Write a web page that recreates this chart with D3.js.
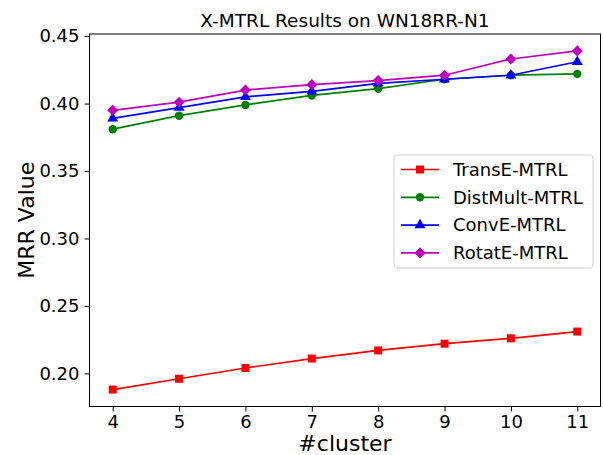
<!DOCTYPE html>
<html>
<head>
<meta charset="utf-8">
<script src="https://cdn.jsdelivr.net/npm/d3@7"></script>
<style>
  body { margin: 0; background: #fff; }
  svg text { font-family: "DejaVu Sans", sans-serif; fill: #000; }
</style>
</head>
<body>
<div id="chart"></div>
<script>
// data
var clusters = [4, 5, 6, 7, 8, 9, 10, 11];
var transE   = [0.188, 0.196, 0.204, 0.211, 0.217, 0.222, 0.226, 0.231];
var distMult = [0.381, 0.391, 0.399, 0.406, 0.411, 0.418, 0.421, 0.422];
var convE    = [0.389, 0.397, 0.405, 0.409, 0.415, 0.418, 0.421, 0.431];
var rotatE   = [0.395, 0.401, 0.410, 0.414, 0.417, 0.421, 0.433, 0.439];
var yTicks = [0.20, 0.25, 0.30, 0.35, 0.40, 0.45];
var seriesNames = ["TransE-MTRL", "DistMult-MTRL", "ConvE-MTRL", "RotatE-MTRL"];

var series = [
  {name: seriesNames[0], values: transE,   color: "#ff0000", marker: d3.symbolSquare,   size: 64, rot: 0},
  {name: seriesNames[1], values: distMult, color: "#008000", marker: d3.symbolCircle,   size: 56, rot: 0},
  {name: seriesNames[2], values: convE,    color: "#0000ff", marker: d3.symbolTriangle, size: 52, rot: 0},
  {name: seriesNames[3], values: rotatE,   color: "#bf00bf", marker: d3.symbolSquare,   size: 62, rot: 45}
];

var width = 603, height = 455;
var mLeft = 89.5, mRight = 600.5, mTop = 34, mBottom = 406.5;

var svg = d3.select("#chart").append("svg")
  .attr("width", width)
  .attr("height", height);

// matplotlib-like 5% margins
var allVals = transE.concat(distMult, convE, rotatE);
var ymin = d3.min(allVals), ymax = d3.max(allVals);
var pad = (ymax - ymin) * 0.05;
var x = d3.scaleLinear().domain([4 - 0.35, 11 + 0.35]).range([mLeft, mRight]);
var y = d3.scaleLinear().domain([ymin - pad, ymax + pad]).range([mBottom, mTop]);

// axes
var xAxis = svg.append("g")
  .attr("transform", "translate(0," + mBottom + ")")
  .call(d3.axisBottom(x).tickValues(clusters).tickSize(5).tickPadding(4).tickFormat(d3.format("d")));
var yAxis = svg.append("g")
  .attr("transform", "translate(" + mLeft + ",0)")
  .call(d3.axisLeft(y).tickValues(yTicks).tickSize(5).tickPadding(5).tickFormat(d3.format(".2f")));

[xAxis, yAxis].forEach(function(a) {
  a.select(".domain").remove();
  a.selectAll("text").style("font-size", "18px").style("font-family", "DejaVu Sans");
  a.selectAll("line").attr("stroke", "#000").attr("stroke-width", 1);
});

// frame
svg.append("rect")
  .attr("x", mLeft).attr("y", mTop)
  .attr("width", mRight - mLeft).attr("height", mBottom - mTop)
  .attr("fill", "none").attr("stroke", "#000").attr("stroke-width", 1);

var line = d3.line()
  .x(function(d, i) { return x(clusters[i]); })
  .y(function(d) { return y(d); });

series.forEach(function(s) {
  svg.append("path")
    .datum(s.values)
    .attr("d", line)
    .attr("fill", "none")
    .attr("stroke", s.color)
    .attr("stroke-width", 1.7);
  svg.selectAll(null)
    .data(s.values)
    .enter().append("path")
    .attr("transform", function(d, i) {
      return "translate(" + x(clusters[i]) + "," + y(d) + ") rotate(" + s.rot + ")";
    })
    .attr("d", d3.symbol().type(s.marker).size(s.size))
    .attr("fill", s.color);
});

// title and labels
svg.append("text")
  .attr("x", (mLeft + mRight) / 2).attr("y", 26.5)
  .attr("text-anchor", "middle")
  .style("font-size", "18.5px")
  .text("X-MTRL Results on WN18RR-N1");

svg.append("text")
  .attr("x", (mLeft + mRight) / 2).attr("y", 451)
  .attr("text-anchor", "middle")
  .style("font-size", "22px")
  .text("#cluster");

svg.append("text")
  .attr("transform", "translate(34," + ((mTop + mBottom) / 2) + ") rotate(-90)")
  .attr("text-anchor", "middle")
  .style("font-size", "22px")
  .text("MRR Value");

// legend
var legend = svg.append("g").attr("transform", "translate(394,155)");
legend.append("rect")
  .attr("width", 199).attr("height", 113)
  .attr("rx", 3)
  .attr("fill", "#fff").attr("fill-opacity", 0.8)
  .attr("stroke", "#d0d0d0");

var item = legend.selectAll(".item")
  .data(series)
  .enter().append("g")
  .attr("class", "item")
  .attr("transform", function(d, i) { return "translate(0," + (14.5 + i * 27.8) + ")"; });
item.append("line")
  .attr("x1", 7).attr("x2", 45)
  .attr("stroke", function(d) { return d.color; })
  .attr("stroke-width", 1.7);
item.append("path")
  .attr("transform", function(d) { return "translate(26,0) rotate(" + d.rot + ")"; })
  .attr("d", function(d) { return d3.symbol().type(d.marker).size(d.size)(); })
  .attr("fill", function(d) { return d.color; });
item.append("text")
  .attr("x", 59).attr("dy", "0.35em")
  .style("font-size", "18px")
  .text(function(d) { return d.name; });
</script>
</body>
</html>
